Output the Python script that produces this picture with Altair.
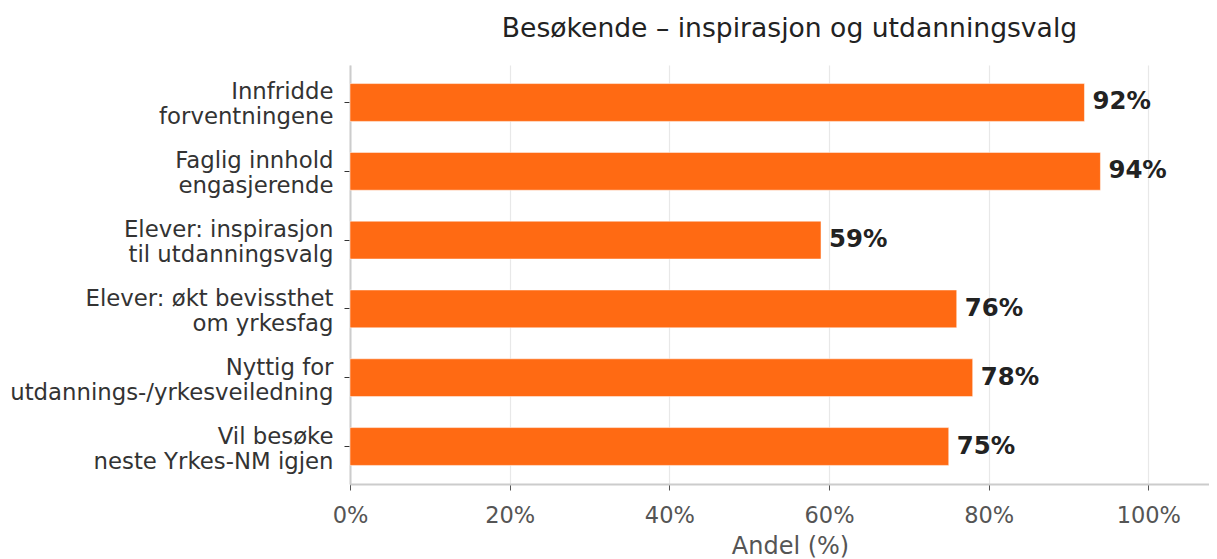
import altair as alt
import pandas as pd

categories = [
    "Innfridde|forventningene",
    "Faglig innhold|engasjerende",
    "Elever: inspirasjon|til utdanningsvalg",
    "Elever: økt bevissthet|om yrkesfag",
    "Nyttig for|utdannings-/yrkesveiledning",
    "Vil besøke|neste Yrkes-NM igjen",
]
values = [92, 94, 59, 76, 78, 75]
value_labels = ["92%", "94%", "59%", "76%", "78%", "75%"]

df = pd.DataFrame({"cat": categories, "val": values, "lab": value_labels})

FONT = "DejaVu Sans"
ORANGE = "#FF6A13"

x_enc = alt.X(
    "val:Q",
    scale=alt.Scale(domain=[0, 107.6], nice=False, zero=True),
    axis=alt.Axis(
        values=[0, 20, 40, 60, 80, 100],
        labelExpr="datum.value + '%'",
        labelFlush=False,
        title="Andel (%)",
        titleFont=FONT,
        titleFontSize=24,
        titleFontWeight="normal",
        titleColor="#555555",
        titlePadding=8,
        titleX=440,
        labelFont=FONT,
        labelFontSize=22.5,
        labelColor="#555555",
        labelPadding=14,
        grid=True,
        gridColor="#e8e8e8",
        gridWidth=1.2,
        domainColor="#cccccc",
        domainWidth=2,
        tickColor="#555555",
        tickSize=6,
    ),
)

y_enc = alt.Y(
    "cat:N",
    sort=categories,
    scale=alt.Scale(paddingInner=0.45, paddingOuter=0.27),
    axis=alt.Axis(
        title=None,
        labelExpr="split(datum.label, '|')",
        labelFont=FONT,
        labelFontSize=22.8,
        labelColor="#333333",
        labelLineHeight=25,
        labelOffset=-10,
        labelPadding=11,
        labelLimit=400,
        domainColor="#cccccc",
        domainWidth=2,
        tickColor="#333333",
        tickSize=6,
        grid=False,
    ),
)

bars = alt.Chart(df).mark_bar(color=ORANGE, stroke="#ffffff", strokeWidth=0.5).encode(
    x=x_enc, y=y_enc
)

texts = alt.Chart(df).mark_text(
    align="left",
    baseline="middle",
    dx=8,
    font=FONT,
    fontSize=24.4,
    fontWeight="bold",
    color="#222222",
).encode(x="val:Q", y=alt.Y("cat:N", sort=categories), text="lab:N")

chart = (
    alt.layer(bars, texts)
    .properties(
        width=859,
        height=419,
        title=alt.TitleParams(
            "Besøkende – inspirasjon og utdanningsvalg",
            font=FONT,
            fontSize=26.6,
            fontWeight="normal",
            color="#222222",
            anchor="middle",
            dx=10,
            offset=22,
        ),
        autosize=alt.AutoSizeParams(type="none"),
        padding={"left": 342, "top": 57, "right": 0, "bottom": 90},
    )
    .configure_view(stroke=None)
)

chart.save("out.html", embed_options={"renderer": "svg", "actions": False})
